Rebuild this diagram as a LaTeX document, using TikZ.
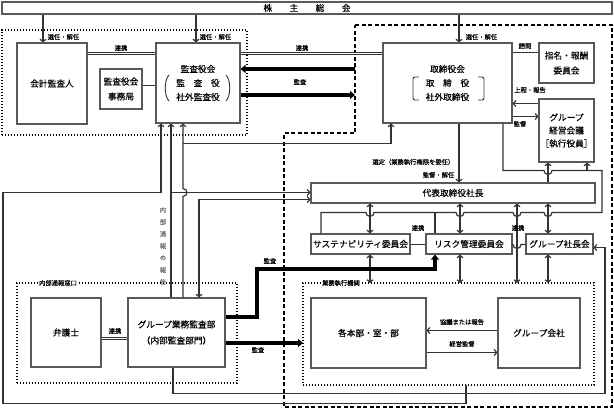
\documentclass[tikz,border=0pt]{standalone}
\usepackage{fontspec}
\setmainfont{Noto Sans CJK JP}[FakeBold=0.35]
\usetikzlibrary{arrows.meta,calc}
\begin{document}
\begin{tikzpicture}[x=1pt,y=1pt,
  box/.style={draw=black!65, line width=1.1pt, fill=white, inner sep=1pt, align=center, font=\fontsize{8.7}{15}\selectfont},
  lbl/.style={font=\fontsize{6.3}{7}\selectfont, inner sep=0.5pt},
  ln/.style={draw=black!80, line width=1.2pt},
  arr/.style={ln, -{Straight Barb[length=2.5pt,width=6pt]}},
  barr/.style={ln, {Straight Barb[length=2.5pt,width=6pt]}-{Straight Barb[length=2.5pt,width=6pt]}},
  dbl/.style={draw=black!80, double=white, double distance=1.3pt, line width=0.9pt},
  tarr/.style={line width=3.5pt, -{Triangle[length=5pt,width=8pt]}},
  dotbox/.style={draw, line width=1.3pt, dash pattern=on 1.4pt off 1.6pt, inner sep=0pt, outer sep=0pt},
  dashbox/.style={draw, line width=1.8pt, dash pattern=on 4pt off 2.5pt},
]
\useasboundingbox (0,0) rectangle (614,-412);

% helper levels
\coordinate (y52) at (0,-52.5);
\coordinate (y53) at (0,-53.5);
\coordinate (y85) at (0,-85.5);
\coordinate (y103) at (0,-103.5);
\coordinate (y116) at (0,-116.5);
\coordinate (y244) at (0,-244.5);
\coordinate (y330) at (0,-330.5);
\coordinate (y338) at (0,-338.5);
\coordinate (y352) at (0,-352.5);

% dotted / dashed frames
\node[dotbox, minimum width=245, minimum height=105] (audit) at (124.5,-82.5) {};
\node[dotbox, minimum width=220, minimum height=100] (naibu) at (127,-333) {};
\node[dotbox, minimum width=291, minimum height=102] (gyomu) at (448.5,-334) {};
\draw[dashbox] (355,-25) -- (612,-25) -- (612,-407) -- (284,-407) -- (284,-133) -- (355,-133) -- cycle;

% boxes
\node[box, minimum width=610, minimum height=12, inner sep=0pt] (sh) at (307,-8) {株　　主　　総　　会};
\node[box, minimum width=70, minimum height=81] (kaikei) at (52,-83.5) {会計監査人};
\node[box, minimum width=42, minimum height=40] (jimu) at (121,-89) {監査役会\\事務局};
\node[box, minimum width=84, minimum height=80] (kansa) at (198,-83) {監査役会\\[-1pt]監　査　役\\[-1pt]社外監査役};
\node[box, minimum width=129, minimum height=80] (tori) at (447.5,-83) {取締役会\\[-1pt]取　締　役\\[-1pt]社外取締役};
\node[box, minimum width=55, minimum height=40] (shimei) at (566.5,-63) {指名・報酬\\委員会};
\node[box, minimum width=55, minimum height=63] (keiei) at (566.5,-130.5) {グループ\\[-2pt]経営会議\\[-2pt]［執行役員］};
\node[box, minimum width=284, minimum height=20] (daihyo) at (453,-193) {代表取締役社長};
\node[box, minimum width=99, minimum height=20] (sust) at (360.5,-244) {サステナビリティ委員会};
\node[box, minimum width=86, minimum height=20] (risk) at (469,-244) {リスク管理委員会};
\node[box, minimum width=67, minimum height=20] (gsc) at (559.5,-244) {グループ社長会};
\node[box, minimum width=70, minimum height=69] (bengo) at (66,-332.5) {弁護士};
\node[box, minimum width=97, minimum height=69] (gkansa) at (176.5,-332.5) {グループ業務監査部\\[1pt]（内部監査部門）};
\node[box, minimum width=115, minimum height=70] (honbu) at (368.5,-333) {各本部・室・部};
\node[box, minimum width=82, minimum height=70] (gkaisha) at (539,-333) {グループ会社};

% brackets
\draw[ln, line width=0.9pt] (169,-75) .. controls (164,-80) and (164,-96) .. (169,-101);
\draw[ln, line width=0.9pt] (226,-75) .. controls (231,-80) and (231,-96) .. (226,-101);
\draw[ln, line width=0.9pt, rounded corners=2pt] (419,-77) -- (413,-77) -- (413,-100) -- (419,-100);
\draw[ln, line width=0.9pt, rounded corners=2pt] (478,-77) -- (484,-77) -- (484,-100) -- (478,-100);

% shareholders
\draw[arr] ([xshift=-9pt]kaikei.north |- sh.south) -- ([xshift=-9pt]kaikei.north);
\draw[arr] ([xshift=-2pt]kansa.north |- sh.south) -- ([xshift=-2pt]kansa.north);
\draw[arr] ([xshift=11.5pt]tori.north |- sh.south) -- ([xshift=11.5pt]tori.north);
\node[lbl, anchor=west] at (47,-37) {選任・解任};
\node[lbl, anchor=west] at (199,-37) {選任・解任};
\node[lbl, anchor=west] at (465,-37) {選任・解任};

% audit area
\draw[dbl] (kaikei.east |- y53) -- (kansa.west |- y53);
\node[lbl] at (121,-48) {連携};
\draw[ln] (jimu.east |- y85) -- (kansa.west |- y85);
\draw[dbl] (kansa.east |- y53) -- (tori.west |- y53);
\node[lbl] at (302,-48) {連携};
\coordinate (t1) at (355,-69);
\coordinate (t2) at (355,-95);
\draw[tarr] (t1) -- (kansa.east |- t1);
\draw[tarr] (kansa.east |- t2) -- (t2);
\node[lbl] at (300,-82) {監査};

% board right side
\draw[ln] (tori.east |- y52) -- (shimei.west |- y52);
\node[lbl] at (525,-46) {諮問};
\draw[arr] (keiei.west |- y103) -- (tori.east |- y103);
\node[lbl] at (530,-90) {上程・報告};
\draw[arr] (tori.east |- y116) -- (keiei.west |- y116);
\node[lbl] at (520,-124) {監督};

% board -> president
\draw[arr] (tori.south -| 459,0) -- (daihyo.north -| 459,0);
\node[lbl, anchor=east] at (455,-162) {選定（業務執行権限を委任）};
\node[lbl, anchor=east] at (455,-175) {監督・解任};

% board supervision line
\draw[ln] (tori.south -| 503,0) -- (503,-170.5) -- (544,-170.5) arc(180:360:4) -- (602,-170.5) -- (602,-212.5)
  -- (552,-212.5) arc(0:-180:4) -- (521,-212.5) arc(0:-180:4) -- (464,-212.5) arc(0:-180:4)
  -- (374,-212.5) arc(0:-180:4) -- (321,-212.5) -- (sust.north -| 321,0);
\draw[ln] (435,-212.5) -- (risk.north -| 435,0);
\draw[arr] (587,-170.5) -- (keiei.south -| 587,0);
\draw[arr] (daihyo.north -| 548,0) -- (keiei.south -| 548,0);

% president <-> committees
\draw[barr] (daihyo.south -| 370,0) -- (sust.north -| 370,0);
\draw[barr] (daihyo.south -| 460,0) -- (risk.north -| 460,0);
\draw[barr] (daihyo.south -| 548,0) -- (gsc.north -| 548,0);
\draw[barr] (daihyo.south -| 517,0) -- (gyomu.north -| 517,0);
\draw[ln] (sust.east |- y244) -- (risk.west |- y244);
\node[lbl] at (418,-228) {連携};
\draw[ln] (risk.east |- y244) -- (513,-244.5) arc(180:360:4) -- (gsc.west |- y244);
\node[lbl] at (518,-228) {連携};
\draw[barr] (sust.south -| 370,0) -- (gyomu.north -| 370,0);
\draw[barr] (risk.south -| 460,0) -- (gyomu.north -| 460,0);
\draw[barr] (gsc.south -| 548,0) -- (gyomu.north -| 548,0);

% lines into the board of auditors
\draw[arr] (gyomu.south -| 466,0) -- (466,-403.5) -- (3,-403.5) -- (3,-192.5) -- (161,-192.5) -- (kansa.south -| 161,0);
\draw[arr] (gkansa.north -| 171,0) -- (kansa.south -| 171,0);
\draw[arr] (171,-192.5) -- (daihyo.west |- 0,-192.5);
\draw[arr] (gkansa.north -| 183,0) -- (183,-196.5) arc(-90:90:4) -- (kansa.south -| 183,0);
\draw[arr] (183,-143.5) -- (391,-143.5) -- (tori.south -| 391,0);
\draw[barr] (daihyo.west |- 0,-199.5) -- (199,-199.5) -- (gkansa.north -| 199,0);
\foreach \c [count=\i] in {内,部,通,報,の,報,告}
  \node[lbl, text=black!55] at (163,-198-12*\i) {\c};

% internal audit
\draw[tarr] (gkansa.east |- 0,-317) -- (257,-317) -- (257,-269) -- (435,-269) -- (risk.south -| 435,0);
\node[lbl] at (270,-261) {監査};
\draw[tarr] (gkansa.east |- 0,-343) -- (gyomu.west |- 0,-343);
\node[lbl] at (258,-350) {監査};
\draw[dbl] (bengo.east |- y338) -- (gkansa.west |- y338);
\node[lbl] at (115,-331) {連携};
\draw[arr] (gkansa.south -| 173,0) -- (173,-393.5) -- (605,-393.5) -- (605,-247.5) -- (gsc.east |- 0,-247.5);
\node[lbl, fill=white, inner sep=1.5pt] at (58,-283) {内部通報窓口};
\node[lbl, fill=white, inner sep=1.5pt] at (341,-283) {業務執行機関};

% execution
\draw[arr] (gkaisha.west |- y330) -- (honbu.east |- y330);
\node[lbl] at (462,-322) {協議または報告};
\draw[arr] (honbu.east |- y352) -- (gkaisha.west |- y352);
\node[lbl] at (462,-344) {経営監督};
\end{tikzpicture}
\end{document}
